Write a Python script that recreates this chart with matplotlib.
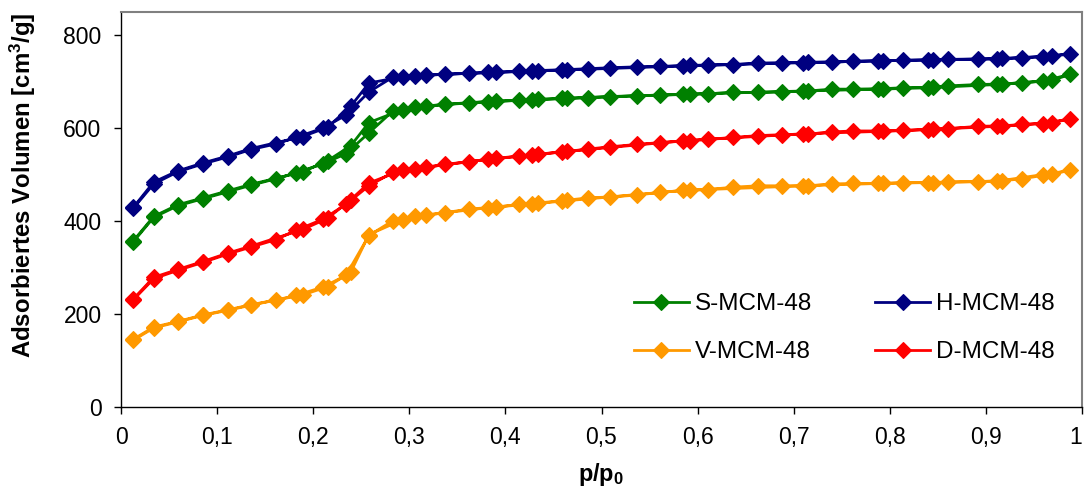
import matplotlib
matplotlib.use("Agg")
import matplotlib.pyplot as plt
from matplotlib.ticker import FixedLocator, FixedFormatter

plt.rcParams['font.family'] = ['Liberation Sans', 'DejaVu Sans']
plt.rcParams['mathtext.fontset'] = 'custom'
plt.rcParams['mathtext.rm'] = 'Liberation Sans'
plt.rcParams['mathtext.bf'] = 'Liberation Sans:bold'
plt.rcParams['mathtext.it'] = 'Liberation Sans:italic'

# relative pressure points (adsorption branch, then desorption branch)
p_ads = [0.013, 0.034, 0.059, 0.085, 0.111, 0.135, 0.161, 0.182, 0.210, 0.234,
         0.258, 0.283, 0.306, 0.337, 0.362, 0.390, 0.414, 0.434, 0.464, 0.486,
         0.509, 0.537, 0.561, 0.592, 0.611, 0.637, 0.663, 0.688, 0.715, 0.740,
         0.762, 0.793, 0.814, 0.845, 0.861, 0.892, 0.917, 0.938, 0.969, 0.988]
p_des = [0.959, 0.912, 0.840, 0.788, 0.710, 0.585, 0.459, 0.428, 0.382, 0.317,
         0.293, 0.258, 0.239, 0.215, 0.189, 0.135, 0.111, 0.085, 0.059, 0.034, 0.013]

# S-MCM-48
s_ads = [356, 408, 433, 448, 463, 477, 491, 504, 523, 545,
         590, 637, 645, 651, 655, 658, 660, 662, 664, 666,
         668, 670, 671, 673, 674, 677, 677, 678, 680, 684,
         684, 685, 687, 688, 691, 694, 695, 698, 703, 716]
s_des = [701, 694, 687, 684, 680, 673, 664, 661, 657, 648,
         640, 612, 562, 530, 506, 479, 465, 450, 435, 410, 358]

# H-MCM-48
h_ads = [428, 480, 506, 523, 538, 554, 566, 580, 600, 628,
         678, 710, 713, 716, 718, 720, 722, 724, 726, 728,
         730, 732, 733, 735, 736, 737, 740, 741, 742, 742,
         744, 745, 746, 747, 748, 749, 750, 752, 755, 760]
h_des = [754, 749, 747, 745, 741, 734, 725, 723, 720, 714,
         711, 697, 647, 602, 582, 556, 540, 525, 508, 484, 430]

# V-MCM-48
v_ads = [144, 170, 183, 197, 208, 219, 230, 240, 258, 283,
         369, 401, 410, 418, 426, 430, 436, 439, 445, 450,
         452, 456, 462, 467, 468, 473, 476, 476, 476, 480,
         481, 481, 483, 483, 484, 485, 487, 491, 502, 509]
v_des = [500, 486, 483, 481, 476, 466, 443, 437, 429, 413,
         403, 371, 290, 259, 241, 220, 209, 198, 184, 172, 146]

# D-MCM-48
d_ads = [231, 276, 294, 311, 329, 344, 360, 380, 404, 436,
         476, 505, 512, 522, 528, 535, 540, 544, 550, 555,
         560, 565, 569, 573, 576, 580, 584, 586, 587, 592,
         594, 594, 595, 598, 599, 604, 605, 608, 612, 620]
d_des = [610, 604, 597, 593, 588, 573, 549, 542, 533, 516,
         510, 482, 446, 406, 382, 346, 331, 313, 296, 279, 233]

names = ["S-MCM-48", "H-MCM-48", "V-MCM-48", "D-MCM-48"]
colors = ["#008000", "#000080", "#FF9900", "#FF0000"]

x_ticks = [0, 0.1, 0.2, 0.3, 0.4, 0.5, 0.6, 0.7, 0.8, 0.9, 1.0]
x_labels = ["0", "0,1", "0,2", "0,3", "0,4", "0,5", "0,6", "0,7", "0,8", "0,9", "1"]
y_ticks = [0, 200, 400, 600, 800]

fig = plt.figure(figsize=(10.85, 4.98), dpi=100)
ax = fig.add_axes([121 / 1085, 1 - 407 / 498, (1082 - 121) / 1085, (407 - 12) / 498])

series = [(s_ads, s_des), (h_ads, h_des), (v_ads, v_des), (d_ads, d_des)]
handles = []
for (ya, yd), name, c in zip(series, names, colors):
    xs = p_ads + p_des
    ys = ya + yd
    ln, = ax.plot(xs, ys, color=c, lw=2.0, marker='D', markersize=8.5,
                  markerfacecolor=c, markeredgecolor=c, markeredgewidth=0.8,
                  label=name, clip_on=False)
    handles.append(ln)

ax.set_xlim(0, 1)
ax.set_ylim(0, 850)
ax.xaxis.set_major_locator(FixedLocator(x_ticks))
ax.xaxis.set_major_formatter(FixedFormatter(x_labels))
ax.yaxis.set_major_locator(FixedLocator(y_ticks))

for side in ['top', 'right']:
    ax.spines[side].set_color('#808080')
    ax.spines[side].set_linewidth(1.5)
for side in ['left', 'bottom']:
    ax.spines[side].set_color('#000000')
    ax.spines[side].set_linewidth(1.0)

ax.tick_params(axis='both', direction='out', length=5, width=1, labelsize=16.5,
               colors='black')
ax.tick_params(axis='x', pad=9)
ax.tick_params(axis='y', pad=9)

# keep the last x tick label inside the figure
fig.canvas.draw()
last = ax.get_xticklabels()[-1]
last.set_horizontalalignment('right')

ax.set_xlabel(r'$\mathbf{p/p_0}$', fontsize=17, labelpad=8)
ax.set_ylabel(r'Adsorbiertes Volumen [cm$^{\mathbf{3}}$/g]', fontsize=17.3,
              fontweight='bold')
ax.yaxis.set_label_coords((38 - 121) / 961, (407 - 185) / 395)

order = [0, 2, 1, 3]
leg = ax.legend([handles[i] for i in order], [names[i] for i in order],
                ncol=2, frameon=False, fontsize=17.5, loc='upper left',
                bbox_to_anchor=((634 - 121) / 961, (407 - 293) / 395),
                handlelength=2.26, columnspacing=2.6, labelspacing=1.08,
                handletextpad=0.25, borderaxespad=0, borderpad=0)

fig.savefig("out.png", dpi=100)
